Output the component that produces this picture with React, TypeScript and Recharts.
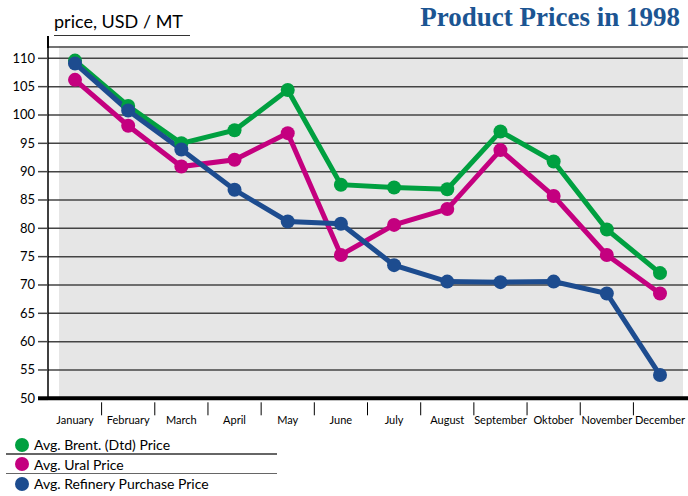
import React from "react";
import { LineChart, Line, XAxis, YAxis, CartesianGrid } from "recharts";

const months = [
  "January",
  "February",
  "March",
  "April",
  "May",
  "June",
  "July",
  "August",
  "September",
  "Oktober",
  "November",
  "December",
];
const brent = [109.6, 101.6, 95.0, 97.3, 104.4, 87.7, 87.2, 86.9, 97.1, 91.8, 79.8, 72.1];
const ural = [106.2, 98.1, 90.9, 92.1, 96.8, 75.3, 80.6, 83.4, 93.8, 85.7, 75.3, 68.5];
const refinery = [109.1, 100.8, 93.9, 86.8, 81.2, 80.8, 73.5, 70.6, 70.5, 70.6, 68.5, 54.1];
const yTicks = [50, 55, 60, 65, 70, 75, 80, 85, 90, 95, 100, 105, 110];

const series = [
  { key: "brent", name: "Avg. Brent. (Dtd) Price", color: "#00a040" },
  { key: "ural", name: "Avg. Ural Price", color: "#c4007f" },
  { key: "refinery", name: "Avg. Refinery Purchase Price", color: "#1d4c8f" },
];

const data = months.map((m, i) => ({
  month: m,
  brent: brent[i],
  ural: ural[i],
  refinery: refinery[i],
}));

const FONT = "Lato, 'Open Sans', sans-serif";
const BAND = 53.2;

const YTick = (props: any) => {
  const { x, y, payload } = props;
  const base = payload.value === 50;
  return (
    <g>
      <line
        x1={x - 10}
        x2={x}
        y1={y}
        y2={y}
        stroke={base ? "#000" : "#444"}
        strokeWidth={base ? 4 : 1.5}
      />
      <text x={x - 13} y={y + 4.5} textAnchor="end" fontSize={13} fontFamily={FONT} fill="#000">
        {payload.value}
      </text>
    </g>
  );
};

const XTick = (props: any) => {
  const { x, y, payload, index } = props;
  return (
    <g>
      {index < months.length - 1 && (
        <line x1={x + BAND / 2} x2={x + BAND / 2} y1={y + 2} y2={y + 15} stroke="#000" strokeWidth={1} />
      )}
      <text x={x} y={y + 24} textAnchor="middle" fontSize={11} fontFamily={FONT} fill="#000">
        {payload.value}
      </text>
    </g>
  );
};

export default function App() {
  return (
    <div style={{ position: "absolute", left: 0, top: 0, width: 688, height: 496, background: "#fff", fontFamily: FONT }}>
      <div style={{ position: "absolute", left: 59, top: 46, width: 624, height: 352, background: "#e6e6e6" }} />
      <div style={{ position: "absolute", left: 0, top: 0 }}>
        <LineChart width={688} height={496} data={data} margin={{ top: 47, right: 0, bottom: 67.7, left: 0 }}>
          <CartesianGrid vertical={false} stroke="#444" strokeWidth={1.5} />
          <XAxis
            dataKey="month"
            height={30}
            padding={{ left: 27, right: 28 }}
            axisLine={{ stroke: "#000", strokeWidth: 4 }}
            tickLine={false}
            tickSize={0}
            interval={0}
            tick={(p: any) => <XTick {...p} />}
          />
          <YAxis
            width={48}
            domain={[50, 112]}
            ticks={yTicks}
            axisLine={{ stroke: "#000", strokeWidth: 1.5 }}
            tickLine={false}
            tickSize={0}
            tickMargin={0}
            tick={(p: any) => <YTick {...p} />}
          />
          {series.map((s) => (
            <Line
              key={s.key}
              dataKey={s.key}
              name={s.name}
              stroke={s.color}
              strokeWidth={5}
              dot={{ r: 7, fill: s.color, stroke: "none" }}
              activeDot={false}
              isAnimationActive={false}
            />
          ))}
        </LineChart>
      </div>
      <div style={{ position: "absolute", left: 47.25, top: 36, width: 1.5, height: 12, background: "#000" }} />
      <div
        style={{
          position: "absolute",
          left: 54,
          top: 10,
          fontSize: 18,
          lineHeight: "22px",
          color: "#000",
          borderBottom: "1.5px solid #333",
          width: 136,
          paddingBottom: 3,
        }}
      >
        price, USD / MT
      </div>
      <div
        style={{
          position: "absolute",
          right: 8,
          top: 0,
          fontFamily: "'Liberation Serif', serif",
          fontWeight: "bold",
          fontSize: 27,
          lineHeight: "34px",
          color: "#1b5592",
        }}
      >
        Product Prices in 1998
      </div>
      {series.map((s, i) => (
        <React.Fragment key={s.key}>
          {i > 0 && (
            <div
              style={{
                position: "absolute",
                left: 6,
                top: 434.5 + i * 19.5 - 1,
                width: 271,
                height: 1.5,
                background: "#666",
              }}
            />
          )}
          <div
            style={{
              position: "absolute",
              left: 6,
              top: 435 + i * 19.5,
              height: 19.5,
              display: "flex",
              alignItems: "center",
              fontSize: 14,
              color: "#000",
              whiteSpace: "nowrap",
            }}
          >
            <span
              style={{
                display: "inline-block",
                width: 14,
                height: 14,
                borderRadius: 7,
                background: s.color,
                marginLeft: 9,
                marginRight: 5,
              }}
            />
            {s.name}
          </div>
        </React.Fragment>
      ))}
    </div>
  );
}
